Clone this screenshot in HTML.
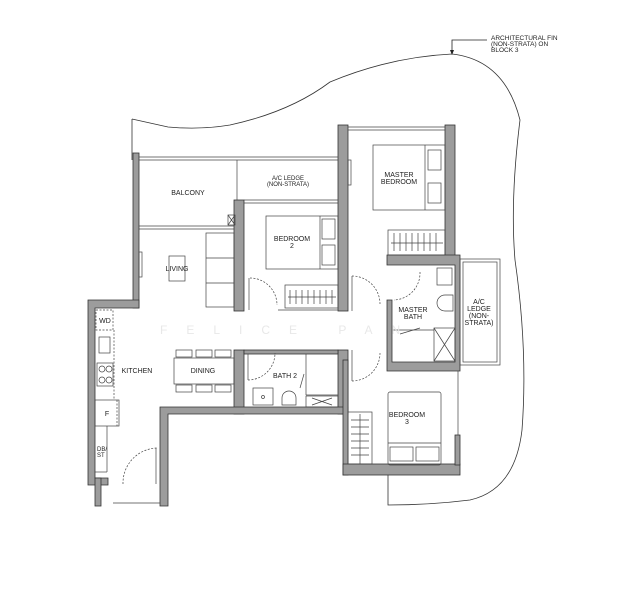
<!DOCTYPE html>
<html><head><meta charset="utf-8"><style>
html,body{margin:0;padding:0;background:#fff;}
svg{display:block;}
text{font-family:"Liberation Sans",sans-serif;fill:#222;}
</style></head><body>
<svg width="618" height="600" viewBox="0 0 618 600" xmlns="http://www.w3.org/2000/svg">
<rect width="618" height="600" fill="#fff"/>
<path d="M132,119 L168,127 Q200,130 230,125 Q290,112 330,82 Q390,57 452,54 Q505,60 520,120 Q510,200 515,260 Q528,350 522,430 Q515,490 470,500 Q430,505 388,505 L388,475" fill="none" stroke="#333" stroke-width="0.8"/>
<path d="M132,119 L132,160" fill="none" stroke="#333" stroke-width="0.8"/>
<path d="M452,54 L452,40 L487,40" fill="none" stroke="#222" stroke-width="0.8"/>
<polygon points="450,50 454,50 452,55" fill="#222"/>
<text x="491" y="40" font-size="6.5">ARCHITECTURAL FIN</text>
<text x="491" y="46" font-size="6.5">(NON-STRATA) ON</text>
<text x="491" y="52" font-size="6.5">BLOCK 3</text>

<g fill="#9c9c9c" stroke="#333" stroke-width="0.8">
<rect x="133" y="153" width="6" height="155"/>
<path d="M88,300 L139,300 L139,308 L95,308 L95,478 L108,478 L108,485 L88,485 Z"/>
<rect x="95" y="478" width="6" height="28"/>
<rect x="234" y="200" width="10" height="111"/>
<rect x="338" y="125" width="10" height="186"/>
<rect x="445" y="125" width="10" height="132"/>
<path d="M387,255 L460,255 L460,371 L387,371 L387,300 L392,300 L392,362 L455,362 L455,265 L387,265 Z"/>
<rect x="234" y="350" width="10" height="64"/>
<rect x="338" y="350" width="10" height="64"/>
<rect x="244" y="350" width="94" height="4"/>
<path d="M160,407 L348,407 L348,414 L168,414 L168,506 L160,506 Z"/>
<rect x="343" y="360" width="5" height="115"/>
<rect x="343" y="464" width="117" height="11"/>
<rect x="455" y="435" width="5" height="30"/>
</g>
<g fill="none" stroke="#444" stroke-width="0.7">
<line x1="139" y1="157" x2="338" y2="157"/><line x1="139" y1="160" x2="338" y2="160"/>
<line x1="237" y1="160" x2="237" y2="200"/>
<line x1="139" y1="226" x2="234" y2="226"/><line x1="139" y1="229" x2="234" y2="229"/>
<line x1="244" y1="200" x2="338" y2="200"/><line x1="244" y1="203" x2="338" y2="203"/>
<rect x="228" y="215" width="7" height="10"/>
<line x1="228" y1="215" x2="235" y2="225"/><line x1="235" y1="215" x2="228" y2="225"/>
<line x1="348" y1="127" x2="445" y2="127"/><line x1="348" y1="130" x2="445" y2="130"/>
<rect x="139" y="252" width="3" height="25"/>
<rect x="348" y="160" width="3" height="25"/>
<rect x="206" y="233" width="28" height="74"/>
<line x1="206" y1="258" x2="234" y2="258"/><line x1="206" y1="283" x2="234" y2="283"/>
<rect x="169" y="256" width="16" height="25"/>
<rect x="266" y="216" width="72" height="53"/>
<line x1="320" y1="216" x2="320" y2="269"/>
<rect x="322" y="219" width="13" height="20"/><rect x="322" y="245" width="13" height="20"/>
<rect x="285" y="285" width="53" height="23"/>
<path d="M290,290 v14 M296,290 v14 M302,290 v14 M308,290 v14 M314,290 v14 M320,290 v14 M326,290 v14 M332,290 v14 M288,297 h48"/>
<line x1="278" y1="310" x2="338" y2="310"/>
<rect x="373" y="145" width="72" height="65"/>
<line x1="425" y1="145" x2="425" y2="210"/>
<rect x="428" y="150" width="13" height="20"/><rect x="428" y="183" width="13" height="20"/>
<rect x="388" y="230" width="57" height="25"/>
<path d="M394,233 v18 M400,233 v18 M406,233 v18 M412,233 v18 M418,233 v18 M424,233 v18 M430,233 v18 M436,233 v18 M391,243 h52"/>
<rect x="437" y="268" width="15" height="17"/>
<path d="M445,295 a8,8 0 0,0 0,16 L453,311 L453,295 Z"/>
<rect x="434" y="328" width="21" height="33"/>
<line x1="434" y1="328" x2="455" y2="361"/><line x1="455" y1="328" x2="434" y2="361"/>
<line x1="392" y1="330" x2="434" y2="330"/>
<line x1="400" y1="334" x2="420" y2="328"/>
<rect x="460" y="259" width="40" height="106"/><rect x="463" y="262" width="34" height="100"/>
<path d="M250,278 A27,27 0 0,1 277,305" stroke-dasharray="2,1.5"/>
<line x1="249" y1="278" x2="249" y2="310"/>
<path d="M352,276 A28,28 0 0,1 380,304" stroke-dasharray="2,1.5"/>
<line x1="352" y1="276" x2="352" y2="311"/>
<path d="M352,381 A28,28 0 0,0 380,353" stroke-dasharray="2,1.5"/>
<line x1="352" y1="350" x2="352" y2="381"/>
<path d="M248,380 A27,27 0 0,0 275,353" stroke-dasharray="2,1.5"/>
<line x1="248" y1="354" x2="248" y2="380"/>
<path d="M420,272 A27,27 0 0,1 394,300" stroke-dasharray="2,1.5"/>
<path d="M123,484 A35,35 0 0,1 158,448" stroke-dasharray="2,1.5"/>
<line x1="156" y1="448" x2="156" y2="484"/>
<line x1="113" y1="503" x2="160" y2="503"/>
<rect x="253" y="388" width="20" height="17"/>
<circle cx="263" cy="397" r="1.5"/>
<path d="M282,405 L282,398 a7,7 0 0,1 14,0 L296,405 Z"/>
<line x1="306" y1="354" x2="306" y2="395"/>
<line x1="306" y1="395" x2="338" y2="395"/>
<rect x="306" y="396" width="32" height="11"/>
<line x1="312" y1="398" x2="332" y2="405"/><line x1="332" y1="398" x2="312" y2="405"/>
<line x1="300" y1="388" x2="304" y2="374"/>
<rect x="174" y="358" width="60" height="26"/>
<rect x="176" y="350" width="16" height="7"/><rect x="196" y="350" width="16" height="7"/><rect x="215" y="350" width="16" height="7"/>
<rect x="176" y="385" width="16" height="7"/><rect x="196" y="385" width="16" height="7"/><rect x="215" y="385" width="16" height="7"/>
<rect x="96" y="310" width="17" height="20" stroke-dasharray="2,1.5"/>
<line x1="114" y1="330" x2="114" y2="400" stroke-dasharray="2,1.5"/>
<rect x="99" y="337" width="11" height="16"/>
<rect x="97" y="363" width="16" height="23"/>
<circle cx="102" cy="369" r="3"/><circle cx="109" cy="369" r="3"/><circle cx="102" cy="380" r="3"/><circle cx="109" cy="380" r="3"/>
<rect x="95" y="400" width="24" height="26"/>
<line x1="117" y1="400" x2="117" y2="426" stroke-dasharray="2,1.5"/>
<line x1="107" y1="426" x2="107" y2="472"/><line x1="95" y1="472" x2="107" y2="472"/>
<rect x="388" y="392" width="53" height="73" rx="2"/>
<line x1="388" y1="443" x2="441" y2="443"/>
<rect x="390" y="447" width="23" height="14"/><rect x="416" y="447" width="23" height="14"/>
<rect x="348" y="412" width="24" height="52"/>
<path d="M360,414 v50 M351,420 h18 M351,427 h18 M351,434 h18 M351,441 h18 M351,448 h18 M351,455 h18"/>
<line x1="458" y1="371" x2="458" y2="435"/>
</g>
<text x="160" y="334" font-size="12" style="fill:#e8e8e8;letter-spacing:19px">FELICE PAN</text>
<g font-size="7" text-anchor="middle">
<text x="188" y="195">BALCONY</text>
<text x="288" y="180" font-size="6">A/C LEDGE</text>
<text x="288" y="186" font-size="6">(NON-STRATA)</text>
<text x="292" y="241">BEDROOM</text><text x="292" y="248">2</text>
<text x="177" y="271">LIVING</text>
<text x="399" y="177">MASTER</text><text x="399" y="184">BEDROOM</text>
<text x="413" y="312">MASTER</text><text x="413" y="319">BATH</text>
<text x="479" y="304">A/C</text><text x="479" y="311">LEDGE</text><text x="479" y="318">(NON-</text><text x="479" y="325">STRATA)</text>
<text x="137" y="373">KITCHEN</text>
<text x="203" y="373">DINING</text>
<text x="285" y="378">BATH 2</text>
<text x="407" y="417">BEDROOM</text><text x="407" y="424">3</text>
<text x="105" y="323">WD</text>
<text x="107" y="416">F</text>
<text x="97" y="451" text-anchor="start" font-size="6">DB/</text>
<text x="97" y="457" text-anchor="start" font-size="6">ST</text>
</g>
</svg>
</body></html>
